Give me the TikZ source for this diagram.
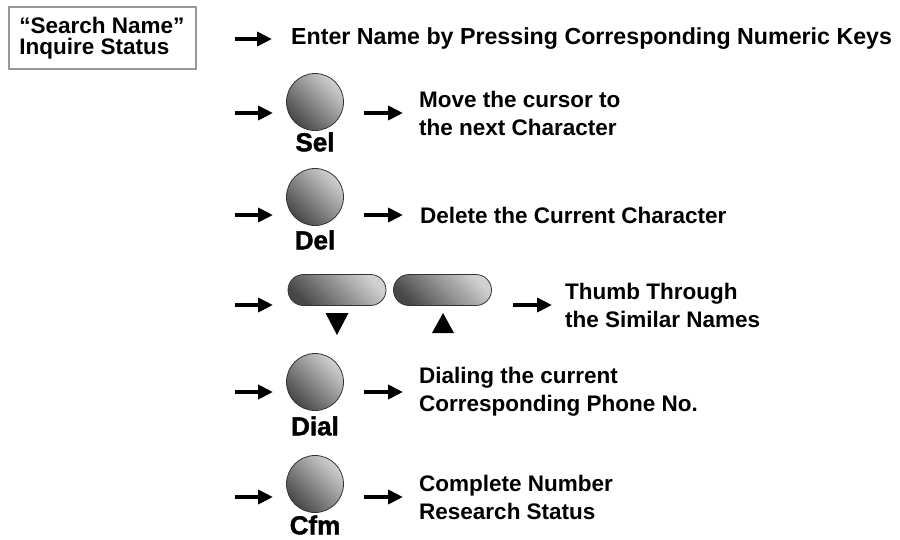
\documentclass[tikz,border=0pt]{standalone}
\usepackage{fontspec}
\setmainfont{Liberation Sans}
\newfontfamily\keyfont{Liberation Sans}[BoldFeatures={FakeBold=1.6}]
\usetikzlibrary{arrows.meta, positioning, shapes.misc}

\begin{document}
\begin{tikzpicture}[
    x=1pt, y=-1pt,
    arr/.style={-{Triangle[length=15pt, width=14pt]}, line width=4pt},
    keyfill/.style={
        draw=black!80,
        line width=0.8pt,
        inner sep=0pt,
        top color=black!18,
        bottom color=black!72,
        shading angle=-45
    },
    key/.style={keyfill, circle, minimum size=57pt},
    pill/.style={keyfill, rounded rectangle, minimum width=98pt, minimum height=31pt},
    keylab/.style={font=\keyfont\fontsize{26}{26}\selectfont\bfseries, inner sep=0pt},
    desc/.style={font=\fontsize{22.5}{28}\selectfont\bfseries, align=left, inner sep=0pt},
    modebox/.style={draw=black!40, line width=2pt, minimum width=187pt, minimum height=62pt, align=left,
        font=\fontsize{22.5}{23.5}\selectfont\bfseries}
]
    \useasboundingbox (0,0) rectangle (900,539);

    % mode box
    \node[modebox] (mode) at (102,38) {\raisebox{-2pt}{“Search Name”}\\Inquire Status};

    % enter name
    \coordinate (nameA) at (235,39);
    \coordinate (nameB) at (272,39);
    \draw[arr] (nameA) -- (nameB);
    \node[desc, font=\fontsize{23.2}{28}\selectfont\bfseries, right=19pt of nameB] (nametxt) {Enter Name by Pressing Corresponding Numeric Keys};

    % Sel key
    \node[key] (sel) at (315,102) {};
    \node[keylab] (sellab) at (315,142) {Sel};
    \coordinate (selA) at (235,113);
    \coordinate (selB) at (273,113);
    \coordinate (selC) at (364,113);
    \coordinate (selD) at (403,113);
    \draw[arr] (selA) -- (selB);
    \draw[arr] (selC) -- (selD);
    \node[desc, right=16pt of selD] (seltxt) {Move the cursor to\\the next Character};

    % Del key
    \node[key] (del) at (315,197) {};
    \node[keylab] (dellab) at (315,240) {Del};
    \coordinate (delA) at (235,215);
    \coordinate (delB) at (273,215);
    \coordinate (delC) at (364,215);
    \coordinate (delD) at (403,215);
    \draw[arr] (delA) -- (delB);
    \draw[arr] (delC) -- (delD);
    \node[desc, right=17pt of delD] (deltxt) {Delete the Current Character};

    % thumb keys
    \node[pill] (down) at (337,290) {};
    \node[pill] (up) at (442.5,290) {};
    \coordinate (dntri) at (337,324);
    \coordinate (uptri) at (443,323);
    \fill (dntri) ++(-11.5,-11) -- ++(23,0) -- ++(-11.5,22) -- cycle;
    \fill (uptri) ++(-11,10) -- ++(22,0) -- ++(-11,-20) -- cycle;
    \coordinate (thA) at (235,305);
    \coordinate (thB) at (273,305);
    \coordinate (thC) at (513,305);
    \coordinate (thD) at (552,305);
    \draw[arr] (thA) -- (thB);
    \draw[arr] (thC) -- (thD);
    \node[desc, right=13pt of thD] (thtxt) {Thumb Through\\the Similar Names};

    % Dial key
    \node[key] (dial) at (315,382) {};
    \node[keylab] (diallab) at (315,426) {Dial};
    \coordinate (dialA) at (235,392);
    \coordinate (dialB) at (273,392);
    \coordinate (dialC) at (364,392);
    \coordinate (dialD) at (403,392);
    \draw[arr] (dialA) -- (dialB);
    \draw[arr] (dialC) -- (dialD);
    \node[desc, right=16pt of dialD] (dialtxt) {Dialing the current\\Corresponding Phone No.};

    % Cfm key
    \node[key] (cfm) at (315,484) {};
    \node[keylab] (cfmlab) at (315,525) {Cfm};
    \coordinate (cfmA) at (235,497);
    \coordinate (cfmB) at (273,497);
    \coordinate (cfmC) at (364,497);
    \coordinate (cfmD) at (403,497);
    \draw[arr] (cfmA) -- (cfmB);
    \draw[arr] (cfmC) -- (cfmD);
    \node[desc, right=16pt of cfmD] (cfmtxt) {Complete Number\\Research Status};

\end{tikzpicture}
\end{document}
